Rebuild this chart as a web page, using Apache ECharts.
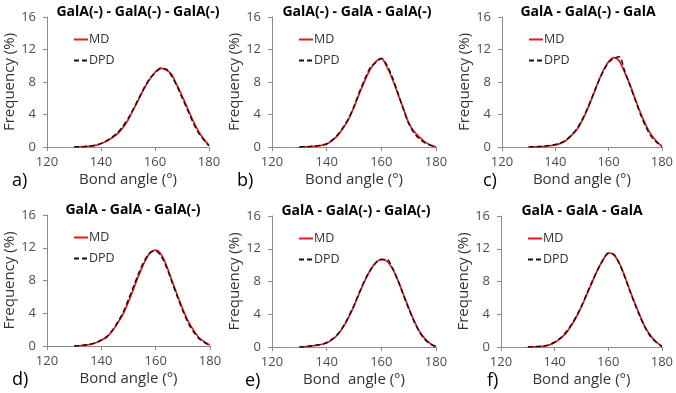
<!DOCTYPE html>
<html>
<head>
<meta charset="utf-8">
<script src="https://cdn.jsdelivr.net/npm/echarts@6/dist/echarts.min.js"></script>
<style>
  html, body { margin: 0; padding: 0; background: #fff; }
  #chart { width: 676px; height: 393px; }
</style>
</head>
<body>
<div id="chart"></div>
<script>
// bond angle bins (degrees)
const angles = [130, 132, 134, 136, 138, 140, 142, 144, 146, 148, 150, 152, 154,
  156, 158, 160, 162, 164, 166, 168, 170, 172, 174, 176, 178, 180];

const titles = ['GalA(-) - GalA(-) - GalA(-)', 'GalA(-) - GalA - GalA(-)', 'GalA - GalA(-) - GalA',
  'GalA - GalA - GalA(-)', 'GalA - GalA(-) - GalA(-)', 'GalA - GalA - GalA'];
const letters = ['a)', 'b)', 'c)', 'd)', 'e)', 'f)'];
const xNames = ['Bond angle (°)', 'Bond angle (°)', 'Bond angle (°)',
  'Bond angle (°)', 'Bond  angle (°)', 'Bond angle (°)'];

const xTicks = [120, 140, 160, 180];
const yTicks = [0, 4, 8, 12, 16];

// frequency (%) - MD
const mdA = [0, 0.02, 0.05, 0.1, 0.2, 0.4, 0.7, 1.1, 1.6, 2.3, 3.3, 4.6, 5.9, 7.2, 8.3, 9.2, 9.7, 9.5, 9.0, 7.7, 6.3, 4.8, 3.3, 2.0, 1.0, 0.2];
const mdB = [0, 0.02, 0.05, 0.1, 0.2, 0.35, 0.8, 1.4, 2.3, 3.4, 4.9, 6.6, 8.2, 9.6, 10.5, 10.9, 9.9, 8.4, 6.6, 4.8, 3.0, 1.9, 1.2, 0.6, 0.25, 0];
const mdC = [0, 0.02, 0.04, 0.08, 0.15, 0.25, 0.45, 0.8, 1.4, 2.1, 3.2, 4.6, 6.2, 7.9, 9.4, 10.5, 11.0, 10.6, 9.2, 7.7, 5.9, 4.2, 2.7, 1.5, 0.7, 0.1];
const mdD = [0, 0.03, 0.1, 0.2, 0.4, 0.7, 1.1, 1.8, 2.8, 3.9, 5.4, 7.1, 8.8, 10.3, 11.4, 11.7, 11.2, 9.8, 8.0, 6.2, 4.5, 3.0, 1.9, 1.0, 0.5, 0.1];
const mdE = [0, 0.03, 0.1, 0.2, 0.3, 0.5, 0.9, 1.5, 2.4, 3.6, 5.0, 6.6, 8.1, 9.4, 10.3, 10.7, 10.5, 9.6, 8.2, 6.5, 4.8, 3.2, 1.9, 1.0, 0.4, 0.05];
const mdF = [0, 0.02, 0.05, 0.1, 0.25, 0.55, 1.0, 1.6, 2.5, 3.6, 4.9, 6.4, 7.9, 9.4, 10.6, 11.5, 11.3, 10.3, 8.8, 7.0, 5.3, 3.7, 2.3, 1.3, 0.6, 0.1];

// frequency (%) - DPD
const dpdA = [0, 0.03, 0.06, 0.12, 0.22, 0.45, 0.75, 1.2, 1.7, 2.5, 3.5, 4.7, 6.0, 7.3, 8.4, 9.1, 9.6, 9.6, 8.8, 7.6, 6.1, 4.6, 3.1, 1.8, 0.9, 0.15];
const dpdB = [0, 0.03, 0.06, 0.12, 0.22, 0.4, 0.85, 1.5, 2.4, 3.5, 5.0, 6.8, 8.4, 9.8, 10.4, 10.9, 10.1, 8.6, 6.7, 4.7, 2.9, 1.7, 1.0, 0.5, 0.2, 0];
const dpdC = [0, 0.03, 0.05, 0.1, 0.18, 0.3, 0.5, 0.85, 1.45, 2.2, 3.3, 4.7, 6.3, 7.9, 9.3, 10.4, 10.9, 11.1, 9.4, 7.6, 5.8, 4.0, 2.5, 1.3, 0.6, 0.05];
const dpdD = [0, 0.04, 0.12, 0.22, 0.42, 0.72, 1.15, 1.9, 2.9, 4.1, 5.7, 7.4, 9.1, 10.5, 11.4, 11.6, 11.0, 9.6, 7.8, 6.0, 4.3, 2.8, 1.7, 0.9, 0.4, 0.05];
const dpdE = [0, 0.04, 0.12, 0.22, 0.32, 0.55, 0.95, 1.55, 2.5, 3.7, 5.1, 6.7, 8.2, 9.4, 10.3, 10.7, 10.7, 9.7, 8.2, 6.4, 4.7, 3.1, 1.8, 0.9, 0.35, 0.03];
const dpdF = [0, 0.03, 0.06, 0.12, 0.28, 0.6, 1.05, 1.7, 2.6, 3.7, 5.0, 6.5, 8.0, 9.4, 10.6, 11.4, 11.3, 10.3, 8.7, 6.9, 5.2, 3.6, 2.2, 1.2, 0.55, 0.05];

const mdAll = [mdA, mdB, mdC, mdD, mdE, mdF];
const dpdAll = [dpdA, dpdB, dpdC, dpdD, dpdE, dpdF];

// panel layout (pixels)
const panels = [
  { left: 47, top: 17, width: 162, height: 130, title: 133, letter: 7 },
  { left: 272, top: 17, width: 164, height: 130, title: 352, letter: 232 },
  { left: 502, top: 17, width: 162, height: 130, title: 583, letter: 478 },
  { left: 47, top: 215, width: 163, height: 131, title: 128, letter: 7 },
  { left: 272, top: 216, width: 164, height: 131, title: 351, letter: 240 },
  { left: 501, top: 216, width: 163, height: 131, title: 577, letter: 482 }
];

const font = '"Open Sans", "DejaVu Sans", sans-serif';
const axisGrey = '#8c8c8c';
const labelGrey = '#4d4d4d';

const grid = [], xAxis = [], yAxis = [], series = [], title = [], legend = [];

panels.forEach((p, i) => {
  grid.push({ left: p.left, top: p.top, width: p.width, height: p.height });

  xAxis.push({
    type: 'value', gridIndex: i, min: xTicks[0], max: xTicks[xTicks.length - 1], interval: 20,
    name: xNames[i], nameLocation: 'middle', nameGap: 25,
    nameTextStyle: { fontFamily: font, fontSize: 15, color: '#333' },
    axisLine: { lineStyle: { color: axisGrey, width: 1 } },
    axisTick: { show: true, inside: false, length: 4, lineStyle: { color: axisGrey } },
    axisLabel: { fontFamily: font, fontSize: 13, color: labelGrey, margin: 9 },
    splitLine: { show: false }
  });

  yAxis.push({
    type: 'value', gridIndex: i, min: yTicks[0], max: yTicks[yTicks.length - 1], interval: 4,
    name: 'Frequency (%)', nameLocation: 'middle', nameGap: 28,
    nameTextStyle: { fontFamily: font, fontSize: 15, color: '#333' },
    axisLine: { show: true, lineStyle: { color: axisGrey, width: 1 } },
    axisTick: { show: true, inside: false, length: 4, lineStyle: { color: axisGrey } },
    axisLabel: { fontFamily: font, fontSize: 13, color: labelGrey, margin: 11 },
    splitLine: { show: false }
  });

  series.push({
    name: 'MD', type: 'line', xAxisIndex: i, yAxisIndex: i,
    data: angles.map((a, k) => [a, mdAll[i][k]]),
    smooth: 0.3, symbol: 'none', animation: false,
    lineStyle: { color: '#e8191c', width: 1.7 },
    itemStyle: { color: '#e8191c' }
  });
  series.push({
    name: 'DPD', type: 'line', xAxisIndex: i, yAxisIndex: i,
    data: angles.map((a, k) => [a, dpdAll[i][k]]),
    smooth: 0.3, symbol: 'none', animation: false,
    lineStyle: { color: '#111', width: 1.5, type: [5, 3] },
    itemStyle: { color: '#111' }
  });

  // panel title
  title.push({
    text: titles[i], left: p.title, top: p.top - 17, textAlign: 'center',
    textStyle: { fontFamily: font, fontSize: 14, fontWeight: 'bold', color: '#000' }
  });
  // panel letter
  title.push({
    text: letters[i], left: p.letter, top: p.top + p.height + 20,
    textStyle: { fontFamily: font, fontSize: 18, fontWeight: 'normal', color: '#000' }
  });

  legend.push({
    data: ['MD', 'DPD'], orient: 'vertical',
    left: p.left + 21, top: p.top + 11,
    itemWidth: 14, itemHeight: 10, itemGap: 8,
    itemStyle: { opacity: 0 },
    textStyle: { fontFamily: font, fontSize: 12.5, color: '#333', padding: [0, 0, 0, -4] }
  });
});

const chart = echarts.init(document.getElementById('chart'), null, { renderer: 'canvas' });
chart.setOption({
  backgroundColor: '#fff',
  animation: false,
  title: title,
  legend: legend,
  grid: grid,
  xAxis: xAxis,
  yAxis: yAxis,
  series: series
});
</script>
</body>
</html>
